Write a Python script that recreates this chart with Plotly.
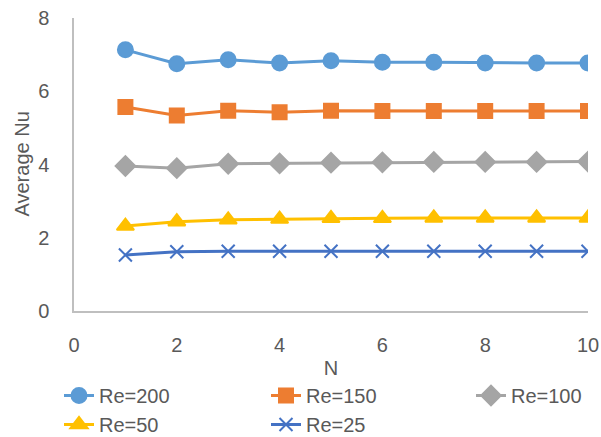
import plotly.graph_objects as go

N = [1, 2, 3, 4, 5, 6, 7, 8, 9, 10]
re200 = [7.13, 6.75, 6.86, 6.77, 6.83, 6.79, 6.79, 6.77, 6.77, 6.77]
re150 = [5.57, 5.34, 5.47, 5.43, 5.47, 5.46, 5.46, 5.46, 5.46, 5.46]
re100 = [3.96, 3.90, 4.02, 4.03, 4.05, 4.06, 4.07, 4.07, 4.07, 4.08]
re50 = [2.32, 2.44, 2.49, 2.51, 2.53, 2.53, 2.54, 2.54, 2.54, 2.54]
re25 = [1.53, 1.62, 1.63, 1.63, 1.63, 1.63, 1.63, 1.63, 1.63, 1.63]

series = [
    ("Re=200", re200, "#5B9BD5", "circle", 15, "legend"),
    ("Re=150", re150, "#ED7D31", "square", 14, "legend2"),
    ("Re=100", re100, "#A5A5A5", "diamond", 15, "legend3"),
    ("Re=50", re50, "#FFC000", "triangle-up", 15, "legend"),
    ("Re=25", re25, "#4472C4", "x-thin", 13, "legend2"),
]

fig = go.Figure()
for name, ys, col, sym, sz, lg in series:
    fig.add_trace(go.Scatter(
        x=N, y=ys, name=name, mode="lines+markers", legend=lg,
        line=dict(color=col, width=3),
        marker=dict(symbol=sym, size=sz, color=col,
                    line=dict(color=col, width=2)),
    ))

font = "Liberation Sans"
W, H = 601, 437
L, R, T, B = 74, 13, 18, 126
legfont = dict(size=20, color="#595959", family=font)


def leg(xpx):
    return dict(orientation="v", xref="container", yref="container",
                x=xpx / W, y=1 - 376 / H, xanchor="left", yanchor="top",
                font=legfont, tracegroupgap=0, itemwidth=30,
                bgcolor="rgba(0,0,0,0)")


fig.update_layout(
    width=W, height=H,
    margin=dict(l=L, r=R, t=T, b=B, autoexpand=False),
    paper_bgcolor="white", plot_bgcolor="white",
    font=dict(family=font, size=20, color="#595959"),
    showlegend=True,
    legend=leg(59),
    legend2=leg(266),
    legend3=leg(471),
    annotations=[dict(text="Average Nu", textangle=-90, showarrow=False,
                      xref="paper", yref="paper",
                      x=(21 - L) / (W - L - R), y=0.5,
                      xanchor="center", yanchor="middle",
                      font=dict(size=20, color="#595959", family=font))],
)
fig.update_xaxes(range=[0, 10], dtick=2, showgrid=False, zeroline=False,
                 showline=True, linecolor="#BFBFBF", linewidth=1.5,
                 ticks="outside", ticklen=15, tickcolor="rgba(0,0,0,0)",
                 title=dict(text="N", standoff=6, font=dict(size=20, color="#595959")))
fig.update_yaxes(range=[0, 8], dtick=2, showgrid=False, zeroline=False,
                 showline=True, linecolor="#BFBFBF", linewidth=1.5,
                 ticks="outside", ticklen=19, tickcolor="rgba(0,0,0,0)")

fig.write_html("out.html", config={"displayModeBar": False},
               post_script="document.body.style.margin='0';document.body.style.padding='0';")
